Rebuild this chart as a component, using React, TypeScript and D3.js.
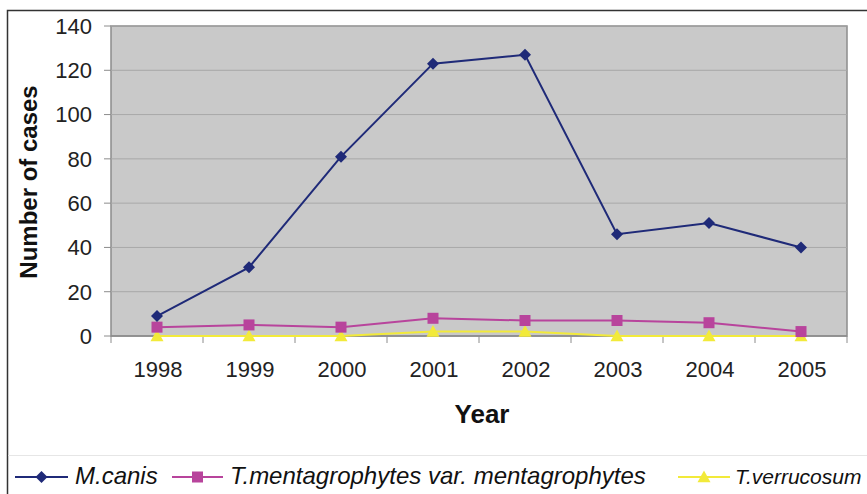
import React from "react";
import * as d3 from "d3";

const years = ["1998", "1999", "2000", "2001", "2002", "2003", "2004", "2005"];
const mCanis = [9, 31, 81, 123, 127, 46, 51, 40];
const tMenta = [4, 5, 4, 8, 7, 7, 6, 2];
const tVerru = [0, 0, 0, 2, 2, 0, 0, 0];
const yTicks = [0, 20, 40, 60, 80, 100, 120, 140];

const W = 867, H = 494;
const left = 111, right = 847, top = 26, bottom = 336;

export default function App() {
  const x = d3.scaleBand<string>().domain(years).range([left, right]);
  const y = d3.scaleLinear().domain([0, 140]).range([bottom, top]);
  const cx = (d: string) => (x(d) as number) + x.bandwidth() / 2;
  const line = d3.line<number>().x((_, i) => cx(years[i])).y((v) => y(v));
  const font = "Liberation Sans, Arial, sans-serif";

  const diamond = (px: number, py: number, r: number) =>
    `M${px},${py - r}L${px + r},${py}L${px},${py + r}L${px - r},${py}Z`;
  const tri = (px: number, py: number, r: number) =>
    `M${px},${py - r}L${px + r},${py + r * 0.8}L${px - r},${py + r * 0.8}Z`;

  const series = [
    { data: tVerru, color: "#f2ea3a", marker: "tri" },
    { data: tMenta, color: "#b8449c", marker: "sq" },
    { data: mCanis, color: "#1f2a78", marker: "dia" },
  ];

  const marker = (m: string, px: number, py: number, color: string, k: string) => {
    if (m === "sq") return <rect key={k} x={px - 5.5} y={py - 5.5} width={11} height={11} fill={color} />;
    if (m === "dia") return <path key={k} d={diamond(px, py, 6)} fill={color} />;
    return <path key={k} d={tri(px, py, 6.5)} fill={color} />;
  };

  const legend = [
    { label: "M.canis", color: "#1f2a78", marker: "dia", x0: 15, x1: 68, tx: 75, size: 24 },
    { label: "T.mentagrophytes var. mentagrophytes", color: "#b8449c", marker: "sq", x0: 172, x1: 223, tx: 230, size: 24 },
    { label: "T.verrucosum", color: "#f2ea3a", marker: "tri", x0: 678, x1: 730, tx: 735, size: 21 },
  ];

  return (
    <svg width={W} height={H} style={{ position: "absolute", left: 0, top: 0, background: "#fff" }}>
      <rect x={7.5} y={10.5} width={W} height={H} fill="#fff" stroke="#333" strokeWidth={1.5} />
      <rect x={left} y={top} width={right - left} height={bottom - top} fill="#c9c9c9" stroke="#8c8c8c" strokeWidth={1.5} />
      {yTicks.slice(1).map((t) => (
        <line key={t} x1={left} x2={right} y1={y(t)} y2={y(t)} stroke="#a8a8a8" strokeWidth={1} />
      ))}
      {yTicks.map((t) => (
        <g key={"yt" + t}>
          <line x1={left - 7} x2={left} y1={y(t)} y2={y(t)} stroke="#8c8c8c" />
          <text x={92} y={y(t)} dy="0.36em" textAnchor="end" fontFamily={font} fontSize={22} fill="#222">{t}</text>
        </g>
      ))}
      <line x1={left} x2={right} y1={bottom} y2={bottom} stroke="#8c8c8c" strokeWidth={1.5} />
      {years.map((yr, i) => (
        <line key={"xt" + i} x1={x(yr) as number} x2={x(yr) as number} y1={bottom} y2={bottom + 7} stroke="#8c8c8c" />
      ))}
      <line x1={right} x2={right} y1={bottom} y2={bottom + 7} stroke="#8c8c8c" />
      {years.map((yr) => (
        <text key={"xl" + yr} x={cx(yr) + 1} y={377} textAnchor="middle" fontFamily={font} fontSize={22} fill="#222">{yr}</text>
      ))}
      {series.map((s, si) => (
        <g key={si}>
          <path d={line(s.data) as string} fill="none" stroke={s.color} strokeWidth={2} />
          {s.data.map((v, i) => marker(s.marker, cx(years[i]), y(v), s.color, si + "-" + i))}
        </g>
      ))}
      <text x={482} y={423} textAnchor="middle" fontFamily={font} fontSize={26} fontWeight="bold" fill="#111">Year</text>
      <text transform={`translate(37,182) rotate(-90)`} textAnchor="middle" fontFamily={font} fontSize={24} fontWeight="bold" fill="#111">Number of cases</text>
      <line x1={8} x2={W} y1={455.5} y2={455.5} stroke="#e6e6e6" />
      {legend.map((l, i) => (
        <g key={"lg" + i}>
          <line x1={l.x0} x2={l.x1} y1={477} y2={477} stroke={l.color} strokeWidth={2} />
          {marker(l.marker, (l.x0 + l.x1) / 2, 477, l.color, "lm" + i)}
          <text x={l.tx} y={484} fontFamily={font} fontSize={l.size} fontStyle="italic" fill="#111">{l.label}</text>
        </g>
      ))}
    </svg>
  );
}
